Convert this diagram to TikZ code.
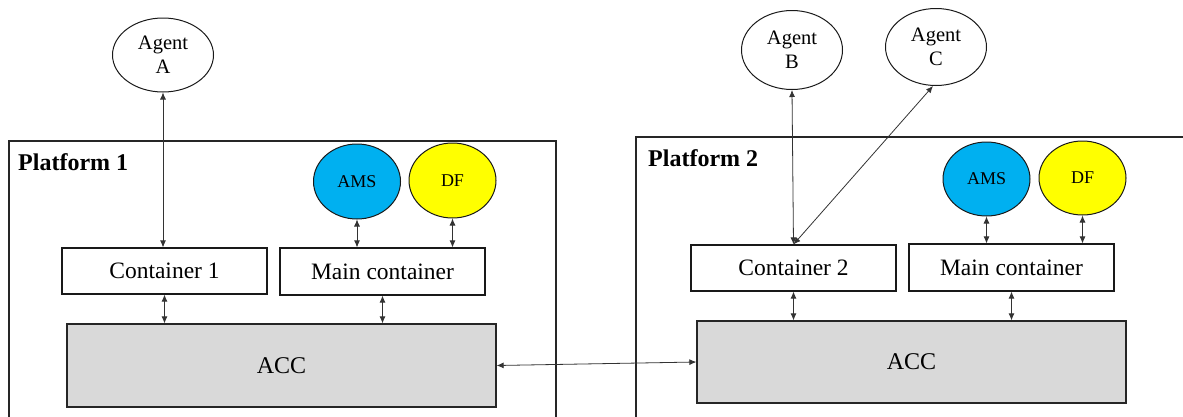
\documentclass[tikz,border=0pt]{standalone}
\usepackage{fontspec}
\setmainfont{Liberation Serif}
\usetikzlibrary{arrows.meta,shapes.geometric}
\definecolor{amsblue}{HTML}{00B0F0}
\definecolor{dfyellow}{HTML}{FFFF00}
\definecolor{accgray}{HTML}{D9D9D9}
\tikzset{
  frame/.style={draw=black!85,line width=1.2pt},
  agent/.style={draw=black!90,line width=1pt,ellipse,minimum width=101pt,inner sep=0pt,align=center,font=\fontsize{20.5}{24}\selectfont},
  svc/.style={draw=black!90,line width=1pt,ellipse,minimum width=87pt,minimum height=75pt,inner sep=0pt,font=\fontsize{18}{20}\selectfont},
  cont/.style={draw=black!90,line width=1.2pt,rectangle,minimum width=205pt,minimum height=46pt,inner sep=0pt,font=\fontsize{23.5}{26}\selectfont},
  acc/.style={draw=black!85,line width=1.3pt,fill=accgray,rectangle,minimum width=429pt,minimum height=83pt,inner sep=0pt,font=\fontsize{24}{26}\selectfont},
  plabel/.style={anchor=base west,inner sep=0pt,font=\fontsize{24}{26}\selectfont\bfseries},
  link/.style={draw=black!80,line width=0.8pt,{Latex[length=7pt,width=6pt]}-{Latex[length=7pt,width=6pt]}}
}
\begin{document}
\begin{tikzpicture}[x=1pt,y=-1pt]
\useasboundingbox (0,0) rectangle (1183,416);
\clip (0,0) rectangle (1183,416);
% platform frames
\draw[frame] (9,430) -- (9,141) -- (556,141) -- (556,430);
\draw[frame] (636,430) -- (636,137) -- (1200,137);
\node[plabel] (p1) at (18,170) {Platform 1};
\node[plabel] (p2) at (648,166) {Platform 2};
% agents
\node[agent,minimum height=74pt] (agA) at (163,55) {Agent\\A};
\node[agent,minimum height=79pt] (agB) at (792,50) {Agent\\B};
\node[agent,minimum height=77pt] (agC) at (936,47) {Agent\\C};
% platform 1
\node[svc,fill=amsblue] (ams1) at (357,181.5) {AMS};
\node[svc,fill=dfyellow] (df1) at (452.5,180.5) {DF};
\node[cont] (c1) at (164.5,271) {Container 1};
\node[cont,minimum height=47pt] (m1) at (382.5,271.5) {Main container};
\node[acc] (acc1) at (281.5,365.5) {ACC};
% platform 2
\node[svc,fill=amsblue,minimum height=74pt] (ams2) at (986.5,179) {AMS};
\node[svc,fill=dfyellow,minimum height=74pt] (df2) at (1082.5,178) {DF};
\node[cont] (c2) at (793.5,268) {Container 2};
\node[cont,minimum height=47pt] (m2) at (1011.5,267.5) {Main container};
\node[acc,minimum height=82pt] (acc2) at (911.5,362) {ACC};
% connectors
\draw[link] (agA.south) -- (agA.south |- c1.north);
\draw[link] (ams1.south) -- (ams1.south |- m1.north);
\draw[link] (df1.south) -- (df1.south |- m1.north);
\draw[link] (c1.south) -- (c1.south |- acc1.north);
\draw[link] (m1.south) -- (m1.south |- acc1.north);
\draw[link] (agB.south) -- (c2.north);
\draw[link] ([xshift=-3pt]agC.south) -- (c2.north);
\draw[link] (ams2.south) -- (ams2.south |- m2.north);
\draw[link] (df2.south) -- (df2.south |- m2.north);
\draw[link] (c2.south) -- (c2.south |- acc2.north);
\draw[link] (m2.south) -- (m2.south |- acc2.north);
\draw[link] (acc1.east) -- (acc2.west);
\end{tikzpicture}
\end{document}
